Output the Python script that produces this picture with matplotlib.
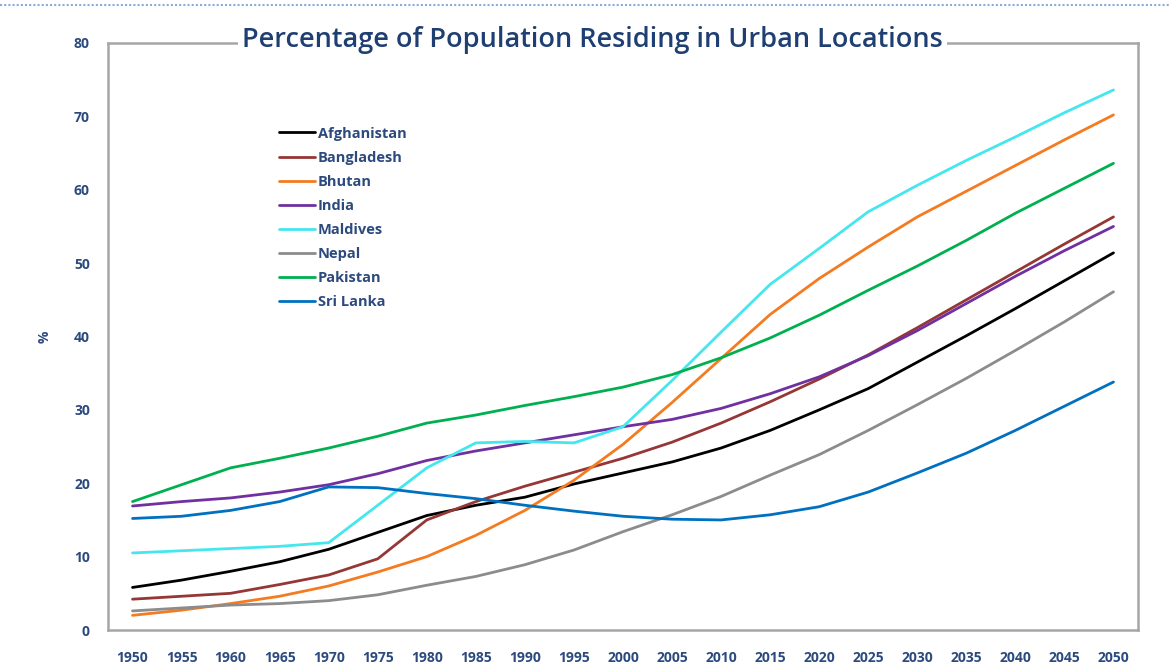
import numpy as np
import matplotlib.pyplot as plt
from matplotlib.lines import Line2D

plt.rcParams['font.family'] = ['Open Sans', 'DejaVu Sans']

#Data
years = ['1950', '1955', '1960', '1965', '1970', '1975', '1980', '1985', '1990', '1995', '2000',
         '2005', '2010', '2015', '2020', '2025', '2030', '2035', '2040', '2045', '2050']

afghanistan = [5.8, 6.8, 8.0, 9.3, 11.0, 13.3, 15.6, 17.0, 18.1, 19.9, 21.4,
               22.9, 24.8, 27.2, 30.0, 32.9, 36.5, 40.1, 43.8, 47.6, 51.4]
bangladesh = [4.2, 4.6, 5.0, 6.2, 7.5, 9.7, 15.0, 17.5, 19.6, 21.5, 23.4,
              25.6, 28.2, 31.1, 34.2, 37.5, 41.2, 45.0, 48.8, 52.6, 56.3]
bhutan = [2.0, 2.7, 3.6, 4.6, 6.0, 7.9, 10.0, 12.9, 16.3, 20.4, 25.3,
          31.0, 37.0, 43.0, 47.9, 52.2, 56.3, 59.8, 63.3, 66.8, 70.2]
india = [16.9, 17.5, 18.0, 18.8, 19.8, 21.3, 23.1, 24.4, 25.5, 26.6, 27.7,
         28.7, 30.2, 32.2, 34.5, 37.4, 40.8, 44.5, 48.2, 51.7, 55.0]
maldives = [10.5, 10.8, 11.1, 11.4, 11.9, 17.0, 22.1, 25.5, 25.7, 25.5, 27.7,
            34.0, 40.6, 47.1, 52.0, 57.0, 60.6, 64.0, 67.2, 70.5, 73.6]
nepal = [2.6, 3.0, 3.4, 3.6, 4.0, 4.8, 6.1, 7.3, 8.9, 10.9, 13.4,
         15.7, 18.2, 21.1, 23.9, 27.2, 30.7, 34.3, 38.1, 42.0, 46.1]
pakistan = [17.5, 19.8, 22.1, 23.4, 24.8, 26.4, 28.2, 29.3, 30.6, 31.8, 33.1,
            34.8, 37.1, 39.8, 42.9, 46.3, 49.6, 53.1, 56.8, 60.2, 63.6]
sri_lanka = [15.2, 15.5, 16.3, 17.5, 19.5, 19.4, 18.6, 17.9, 17.0, 16.2, 15.5,
             15.1, 15.0, 15.7, 16.8, 18.8, 21.4, 24.1, 27.2, 30.5, 33.8]

countries = ['Afghanistan', 'Bangladesh', 'Bhutan', 'India', 'Maldives', 'Nepal', 'Pakistan', 'Sri Lanka']
series = [afghanistan, bangladesh, bhutan, india, maldives, nepal, pakistan, sri_lanka]
colors = ['#000000', '#953735', '#F47B20', '#7030A0', '#45E6EE', '#8C8C8C', '#00B050', '#0070C0']

text_color = '#2C4A7E'

fig = plt.figure(figsize=(11.7, 6.65), dpi=100)
ax = fig.add_axes([108/1170, 35/665, 1030/1170, 587/665])

x = np.arange(len(years))
for name, vals, col in zip(countries, series, colors):
    ax.plot(x, vals, color=col, linewidth=2.0, label=name, solid_capstyle='round')

ax.set_xlim(-0.5, len(years) - 0.5)
ax.set_ylim(0, 80)
ax.set_xticks(x)
ax.set_xticklabels(years)
ax.set_yticks(np.arange(0, 81, 10))
ax.tick_params(length=0, labelsize=10, labelcolor=text_color)
ax.tick_params(axis='x', pad=15)
ax.tick_params(axis='y', pad=13)
for lab in ax.get_xticklabels() + ax.get_yticklabels():
    lab.set_fontweight('bold')

for sp in ax.spines.values():
    sp.set_color('#A6A6A6')
    sp.set_linewidth(1.8)

ax.set_ylabel('%', color=text_color, fontweight='bold', fontsize=10, labelpad=16)

ax.text(0.47, 1.005, 'Percentage of Population Residing in Urban Locations',
        transform=ax.transAxes, ha='center', va='center', fontsize=19.5,
        fontweight='semibold', color='#1F3F73',
        bbox=dict(facecolor='white', edgecolor='none', pad=3))

leg = ax.legend(loc='upper left', bbox_to_anchor=(0.153, 0.88), frameon=False,
                handlelength=2.5, handletextpad=0.2, labelspacing=0.69,
                prop={'size': 10.5, 'weight': 'bold'})
for t in leg.get_texts():
    t.set_color(text_color)

#dotted border line at the top of the image
fig.add_artist(Line2D([0, 1], [0.992, 0.992], transform=fig.transFigure,
                      color='#8FAAD8', linewidth=1.5, linestyle=(0, (1, 1))))

fig.savefig('out.png', dpi=100)
